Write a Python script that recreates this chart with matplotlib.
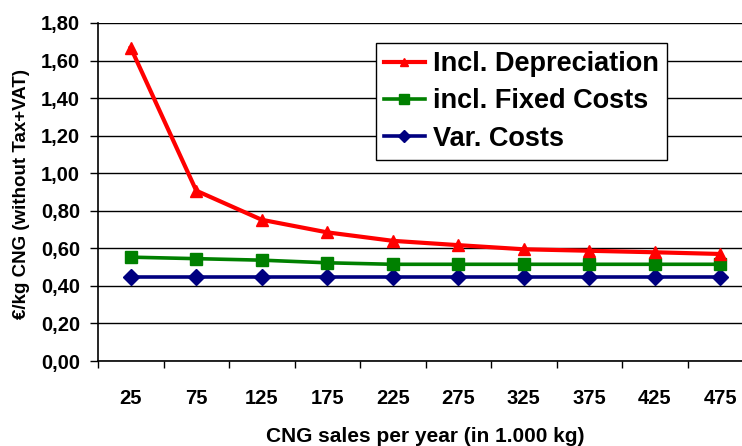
import matplotlib
matplotlib.use("Agg")
import matplotlib.pyplot as plt
from matplotlib.lines import Line2D
import numpy as np

plt.rcParams['font.family'] = ['Liberation Sans', 'DejaVu Sans']
plt.rcParams['font.weight'] = 'bold'

categories = ["25", "75", "125", "175", "225", "275", "325", "375", "425", "475"]
depreciation = [1.668, 0.907, 0.752, 0.685, 0.640, 0.617, 0.595, 0.587, 0.579, 0.570]
fixed_costs = [0.553, 0.545, 0.537, 0.523, 0.515, 0.515, 0.515, 0.515, 0.515, 0.515]
var_costs = [0.447, 0.447, 0.447, 0.447, 0.447, 0.447, 0.447, 0.447, 0.447, 0.447]
y_ticks = [0.0, 0.2, 0.4, 0.6, 0.8, 1.0, 1.2, 1.4, 1.6, 1.8]
labels = ["Incl. Depreciation", "incl. Fixed Costs", "Var. Costs"]

W, H = 742, 446
fig = plt.figure(figsize=(W / 100, H / 100), dpi=100)
ax = fig.add_axes([98 / W, 1 - 361 / H, 655 / W, 338 / H])

x = np.arange(len(categories))
ax.plot(x, depreciation, color="#FF0000", lw=3.0, marker="^", ms=8, zorder=5)
ax.plot(x, fixed_costs, color="#008000", lw=2.6, marker="s", ms=9, zorder=4)
ax.plot(x, var_costs, color="#000080", lw=2.6, marker="D", ms=8, zorder=3)

ax.set_xlim(-0.5, len(categories) - 0.5)
ax.set_ylim(0, 1.8)
ax.set_yticks(y_ticks)
ax.set_yticklabels([f"{v:.2f}".replace(".", ",") for v in y_ticks], fontsize=14.5, fontweight="bold")
ax.yaxis.grid(True, color="black", lw=1.0)
ax.set_axisbelow(True)

ax.set_xticks(np.arange(-0.5, len(categories) + 0.5, 1.0))
ax.set_xticklabels([])
ax.set_xticks(x, minor=True)
ax.set_xticklabels(categories, minor=True, fontsize=14.5, fontweight="bold")
ax.tick_params(axis="x", which="major", direction="out", length=5, width=1, color="black")
ax.tick_params(axis="x", which="minor", length=0, pad=20)
ax.tick_params(axis="y", direction="out", length=5.8, width=1, pad=7)

for s in ["top", "right"]:
    ax.spines[s].set_visible(False)
for s in ["left", "bottom"]:
    ax.spines[s].set_color("black")
    ax.spines[s].set_linewidth(1.2)

fig.text(22 / W, 1 - 194 / H, "€/kg CNG (without Tax+VAT)", rotation=90,
         ha="center", va="center", fontsize=13.5, fontweight="bold")
fig.text(425 / W, 1 - 436 / H, "CNG sales per year (in 1.000 kg)",
         ha="center", va="center", fontsize=15, fontweight="bold")

handles = [
    Line2D([], [], color="#FF0000", lw=3.0, marker="^", ms=6),
    Line2D([], [], color="#008000", lw=2.6, marker="s", ms=7),
    Line2D([], [], color="#000080", lw=2.6, marker="D", ms=6),
]
leg = fig.legend(handles, labels, loc="upper left", bbox_to_anchor=(376 / W, 1 - 43 / H),
                 prop={"size": 19.5, "weight": "bold"}, frameon=True, fancybox=False,
                 edgecolor="black", framealpha=1, handlelength=1.5, handletextpad=0.3,
                 borderpad=0.3, labelspacing=0.42, borderaxespad=0)
leg.get_frame().set_linewidth(1.0)

fig.savefig("out.png", dpi=100)
